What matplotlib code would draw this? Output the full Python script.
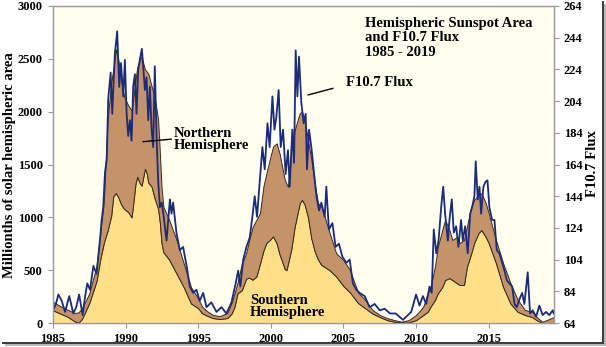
import matplotlib
matplotlib.use("Agg")
import numpy as np
import matplotlib.pyplot as plt
from matplotlib.lines import Line2D

# ---------------------------------------------------------------
# DATA
# ---------------------------------------------------------------
area_year = [
    1985.0, 1985.5, 1986.0, 1986.5, 1986.75, 1987.0, 1987.5, 1988.0, 1988.25,
    1988.5, 1988.75, 1989.0, 1989.15, 1989.33, 1989.5, 1989.7, 1989.9, 1990.18,
    1990.41, 1990.55, 1990.68, 1990.8, 1990.95, 1991.1, 1991.33, 1991.45,
    1991.56, 1991.79, 1992.0, 1992.24, 1992.36, 1992.47, 1992.6, 1993.0,
    1993.5, 1994.0, 1994.5, 1995.0, 1995.25, 1995.5, 1996.0, 1996.5, 1997.0,
    1997.3, 1997.5, 1997.7, 1998.0, 1998.3, 1998.5, 1998.75, 1999.0, 1999.25,
    1999.5, 1999.7, 1999.93, 2000.15, 2000.4, 2000.6, 2000.75, 2000.96,
    2001.07, 2001.18, 2001.41, 2001.64, 2001.99, 2002.15, 2002.33, 2002.56,
    2002.79, 2003.02, 2003.25, 2003.48, 2003.71, 2004.05, 2004.5, 2005.0,
    2005.45, 2006.0, 2006.5, 2007.0, 2007.5, 2008.0, 2008.5, 2009.0, 2009.5,
    2010.0, 2010.5, 2010.8, 2011.0, 2011.3, 2011.5, 2011.8, 2012.0, 2012.3,
    2012.5, 2012.8, 2013.0, 2013.3, 2013.5, 2013.8, 2014.0, 2014.3, 2014.5,
    2014.8, 2015.0, 2015.5, 2016.0, 2016.5, 2017.0, 2017.5, 2018.0, 2018.3,
    2018.7, 2019.0, 2019.5,
]
# top of the stack (north + south), millionths of hemisphere
total_area = [
    200, 160, 125, 95, 100, 140, 280, 540, 850,
    1150, 1900, 2270, 2400, 2590, 2490, 2300, 2140, 2060,
    2010, 2150, 2300, 2420, 2480, 2520, 2400, 2380,
    2360, 2240, 2140, 1920, 1610, 1290, 1100, 975,
    790, 565, 340, 230, 160, 123, 76, 66, 95,
    190, 280, 380, 560, 660, 780, 910, 975, 1040,
    1300, 1420, 1550, 1670, 1700, 1605, 1500, 1355,
    1320, 1290, 1640, 1825, 1985, 2000, 1920, 1730,
    1545, 1320, 1135, 1100, 1005, 850, 660, 595,
    500, 290, 218, 123, 76, 47, 28, 12, 28,
    76, 155, 280, 340, 533, 720, 880, 975, 880,
    785, 814, 757, 785, 910, 1100, 1165, 1210, 1228,
    1135, 1040, 785, 565, 378, 218, 123, 106, 57,
    12, 28, 57,
]
south_area = [
    120, 90, 60, 15, 3, 40, 190, 400, 600,
    760, 870, 1010, 1200, 1230, 1190, 1120, 1080, 1050,
    1000, 1160, 1320, 1385, 1330, 1300, 1460, 1420,
    1330, 1290, 1180, 1080, 950, 760, 670, 600,
    470, 340, 185, 140, 95, 76, 47, 38, 47,
    90, 155, 280, 310, 420, 430, 410, 440, 560,
    690, 760, 785, 820, 755, 650, 595, 510,
    500, 560, 700, 910, 1135, 1165, 1120, 1000,
    800, 680, 600, 550, 530, 500, 440, 350,
    290, 190, 140, 90, 57, 28, 12, 5, 5,
    28, 76, 106, 155, 218, 280, 340, 407, 425,
    407, 378, 360, 360, 530, 660, 757, 850, 880,
    814, 757, 568, 340, 185, 106, 76, 57, 28,
    0, 0, 0,
]

flux_year = [
    1985.0, 1985.2, 1985.37, 1985.6, 1985.83, 1986.12, 1986.4, 1986.6, 1986.8,
    1987.04, 1987.2, 1987.36, 1987.55, 1987.78, 1988.0, 1988.23, 1988.35,
    1988.46, 1988.58, 1988.7, 1988.8, 1988.97, 1989.08, 1989.26, 1989.42,
    1989.56, 1989.68, 1989.84, 1989.95, 1990.07, 1990.18, 1990.3, 1990.41,
    1990.52, 1990.64, 1990.75, 1990.87, 1990.98, 1991.12, 1991.21, 1991.33,
    1991.44, 1991.56, 1991.67, 1991.79, 1991.9, 1992.01, 1992.13, 1992.24,
    1992.36, 1992.48, 1992.6, 1992.82, 1993.05, 1993.16, 1993.27, 1993.5,
    1993.73, 1993.96, 1994.2, 1994.42, 1994.65, 1994.88, 1995.1, 1995.34,
    1995.57, 1995.9, 1996.26, 1996.6, 1996.94, 1997.29, 1997.58, 1997.75,
    1997.9, 1998.1, 1998.32, 1998.55, 1998.73, 1998.89, 1999.05, 1999.24,
    1999.42, 1999.58, 1999.77, 1999.92, 2000.11, 2000.25, 2000.38, 2000.54,
    2000.68, 2000.84, 2001.02, 2001.18, 2001.3, 2001.48, 2001.6, 2001.71,
    2001.83, 2001.94, 2002.1, 2002.26, 2002.4, 2002.49, 2002.63, 2002.79,
    2002.95, 2003.14, 2003.32, 2003.48, 2003.71, 2003.82, 2004.0, 2004.24,
    2004.46, 2004.69, 2004.92, 2005.2, 2005.43, 2005.65, 2005.89, 2006.11,
    2006.46, 2006.8, 2007.15, 2007.5, 2007.84, 2008.2, 2008.6, 2009.1,
    2009.33, 2009.67, 2010.0, 2010.24, 2010.47, 2010.7, 2010.93, 2011.08,
    2011.22, 2011.39, 2011.55, 2011.73, 2011.87, 2012.0, 2012.19, 2012.3,
    2012.46, 2012.6, 2012.76, 2012.92, 2013.1, 2013.22, 2013.38, 2013.56,
    2013.73, 2013.86, 2014.02, 2014.11, 2014.25, 2014.37, 2014.48, 2014.64,
    2014.78, 2014.92, 2015.05, 2015.24, 2015.4, 2015.56, 2015.74, 2015.93,
    2016.09, 2016.25, 2016.43, 2016.62, 2016.78, 2016.94, 2017.12, 2017.31,
    2017.46, 2017.69, 2017.85, 2018.03, 2018.27, 2018.49, 2018.72, 2018.95,
    2019.18, 2019.41, 2019.48,
]
flux_val = [
    72, 76, 82, 78, 71, 81, 70, 74, 82,
    69, 80, 89, 85, 100, 95, 116, 129,
    137, 159, 167, 205, 222, 196, 234, 248,
    213, 228, 207, 230, 196, 182, 192, 179,
    213, 221, 196, 224, 230, 237, 226, 211,
    219, 192, 213, 186, 175, 226, 182, 154,
    137, 140, 133, 116, 142, 133, 140, 121,
    110, 112, 100, 87, 83, 85, 78, 83,
    74, 77, 71, 74, 70, 77, 89, 97,
    87, 104, 112, 118, 131, 144, 131, 154,
    175, 161, 190, 175, 207, 186, 194, 211,
    175, 186, 158, 173, 150, 186, 165, 236,
    207, 232, 203, 190, 196, 161, 186, 175,
    161, 144, 135, 140, 131, 150, 123, 127,
    112, 114, 106, 102, 104, 89, 85, 83,
    81, 74, 76, 72, 73, 70, 70, 66,
    68, 71, 82, 75, 81, 76, 87, 83,
    123, 108, 116, 137, 150, 133, 116, 129,
    142, 121, 125, 112, 129, 116, 125, 108,
    133, 137, 144, 166, 142, 150, 133, 150,
    153, 154, 137, 129, 129, 110, 108, 102,
    97, 91, 89, 87, 76, 74, 79, 83,
    76, 96, 70, 72, 68, 75, 69, 71,
    69, 72, 70,
]

year_ticks = [1985, 1990, 1995, 2000, 2005, 2010, 2015]
area_ticks = [0, 500, 1000, 1500, 2000, 2500, 3000]
flux_ticks = [64, 84, 104, 124, 144, 164, 184, 204, 224, 244, 264]

# ---------------------------------------------------------------
# STYLE
# ---------------------------------------------------------------
CREAM  = "#FFFFF0"
YELLOW = "#FFE08A"
BROWN  = "#C4936A"
EDGE   = "#3B2A14"
NAVY   = "#1B2B78"
SPINE  = "#9A9A9A"
SERIF  = ["Liberation Serif", "DejaVu Serif"]

plt.rcParams["font.family"] = SERIF
plt.rcParams["font.weight"] = "bold"

fig = plt.figure(figsize=(6.06, 3.47), dpi=100, facecolor="white")
ax = fig.add_axes([53 / 606, 24 / 347, 501 / 606, 317 / 347])
ax2 = ax.twinx()

# primary axis (areas) drawn above the flux background fill
ax.set_zorder(ax2.get_zorder() + 1)
ax.patch.set_visible(False)
ax2.patch.set_visible(True)
ax2.patch.set_facecolor(CREAM)

ax.set_xlim(1985, 2019.5)
ax.set_ylim(0, 3000)
ax2.set_ylim(64, 264)

# white fill under the flux curve
ax2.fill_between(flux_year, 64, flux_val, color="white", lw=0)

total = np.array(total_area)
south = np.array(south_area)
ax.fill_between(area_year, 0, south, facecolor=YELLOW, edgecolor=EDGE, lw=0.7)
ax.fill_between(area_year, south, total, facecolor=BROWN, edgecolor=EDGE, lw=0.7)

# flux line on top of the areas, in flux units
ax.plot(flux_year, flux_val, color=NAVY, lw=1.3, transform=ax2.transData,
        solid_joinstyle="round")
ax.set_xlim(1985, 2019.5)
ax.set_ylim(0, 3000)

# ticks / spines
ax.set_xticks(year_ticks)
ax.set_yticks(area_ticks)
ax2.set_yticks(flux_ticks)
for a in (ax, ax2):
    for sp in a.spines.values():
        sp.set_color(SPINE)
        sp.set_linewidth(0.9)
ax.tick_params(axis="both", direction="out", length=3.5, width=0.8,
               color=SPINE, labelsize=9, pad=3.5)
ax.tick_params(axis="y", pad=4)
ax2.tick_params(axis="y", direction="out", length=3.5, width=0.8,
                color=SPINE, labelsize=9, pad=3.5)
for lab in ax.get_xticklabels() + ax.get_yticklabels() + ax2.get_yticklabels():
    lab.set_fontweight("bold")

# axis labels
fig.text(0.016, 0.524, "Millionths of solar hemispheric area", rotation=90,
         ha="center", va="center", fontsize=10.5, fontweight="bold")
fig.text(0.977, 0.530, "F10.7 Flux", rotation=90,
         ha="center", va="center", fontsize=10.5, fontweight="bold")

# title block
title_lines = ["Hemispheric Sunspot Area", "and F10.7 Flux", "1985 - 2019"]
for i, line in enumerate(title_lines):
    fig.text(365 / 606, 1 - (23.3 + 14.5 * i) / 347, line,
             ha="left", va="center", fontsize=10.5, fontweight="bold")

# annotations
line_kw = dict(arrowstyle="-", color="black", lw=1.0, shrinkA=0, shrinkB=0)
ax.annotate("", xy=(1991.2, 1716), xytext=(1993.15, 1740), arrowprops=line_kw)
ax.text(1993.3, 1735, "Northern\nHemisphere", ha="left", va="center",
        fontsize=10.5, fontweight="bold", linespacing=0.9)

ax.annotate("", xy=(2002.56, 2158), xytext=(2004.28, 2221), arrowprops=line_kw)
ax.text(2005.2, 2274, "F10.7 Flux", ha="left", va="center",
        fontsize=10.5, fontweight="bold")

ax.text(1998.55, 154, "Southern\nHemisphere", ha="left", va="center",
        fontsize=10.5, fontweight="bold", linespacing=0.9)

# picture frame with drop shadow (right and bottom)
fx = lambda px: px / 606
fy = lambda py: 1 - py / 347
fig.add_artist(Line2D([fx(602.5), fx(602.5)], [fy(2), fy(343)],
                      transform=fig.transFigure, color="#3a3a3a", lw=1.4))
fig.add_artist(Line2D([fx(3), fx(602.5)], [fy(343), fy(343)],
                      transform=fig.transFigure, color="#3a3a3a", lw=1.4))
fig.add_artist(Line2D([fx(604.5), fx(604.5)], [fy(5), fy(345)],
                      transform=fig.transFigure, color="#b8b8b8", lw=1.4))
fig.add_artist(Line2D([fx(6), fx(604.5)], [fy(345), fy(345)],
                      transform=fig.transFigure, color="#b8b8b8", lw=1.4))

fig.savefig("out.png", dpi=100, facecolor=fig.get_facecolor())
